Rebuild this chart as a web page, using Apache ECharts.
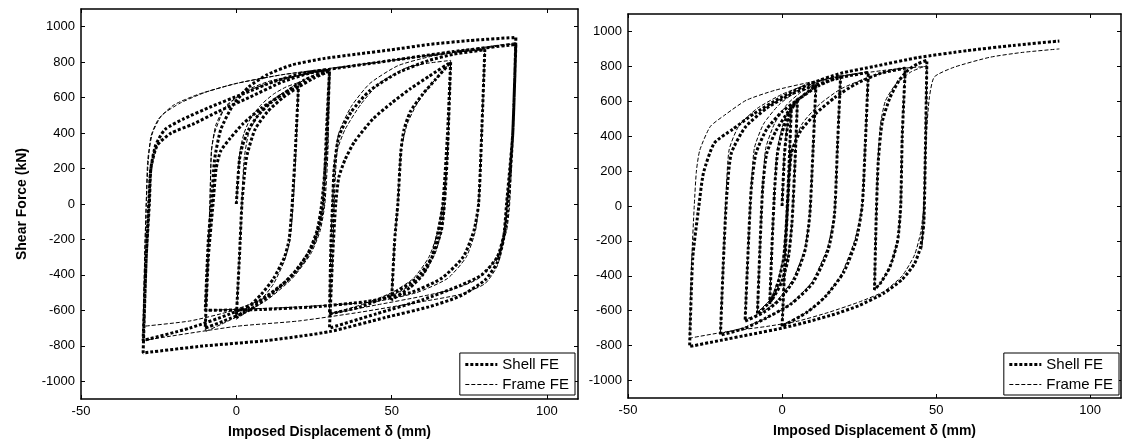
<!DOCTYPE html>
<html>
<head>
<meta charset="utf-8">
<title>Shear force vs imposed displacement</title>
<script src="https://cdn.jsdelivr.net/npm/echarts@6/dist/echarts.min.js"></script>
<style>
  html, body { margin: 0; padding: 0; background: #fff; }
  #chart { width: 1122px; height: 444px; }
</style>
</head>
<body>
<div id="chart"></div>
<script>
// tick labels
const xTicks = [-50, 0, 50, 100];
const yTicks = [-1000, -800, -600, -400, -200, 0, 200, 400, 600, 800, 1000];
const seriesNames = ['Shell FE', 'Frame FE'];

// left panel, Shell FE (displacement mm, force kN) in load order
const leftShell = [
  [0, 0], [1, 250], [2, 330], [4, 420], [7, 500], [11, 570], [15, 620], [20, 660],
  [19, 300], [18, 0], [17, -200], [15.5, -300], [12, -420], [8, -510], [4, -580], [0, -640],
  [1, -300], [1.8, 0], [2.8, 200], [3.5, 280], [6, 420], [10, 520], [15, 600], [20, 660], [25, 710], [30, 750],
  [29, 400], [28, 0], [27, -100], [25, -220], [20, -360], [12, -500], [4, -600], [-4, -660], [-10, -700],
  [-9, -300], [-7.5, 0], [-6.5, 200], [-5, 300], [-2, 370], [2, 450], [8, 540], [15, 620], [22, 700], [30, 752],
  [29, 300], [27.5, 0], [26, -150], [23, -280], [17, -420], [8, -540], [-2, -620], [-15, -700], [-30, -770],
  [-29, -300], [-28, 0], [-27.5, 200], [-26, 330], [-23, 420], [-17, 480], [-8, 550], [2, 620], [12, 690], [22, 740], [30, 760], [50, 810], [70, 860], [90, 900],
  [89, 400], [87.5, 0], [86.5, -150], [84, -300], [79, -400], [72, -460], [60, -540], [45, -620], [30, -700],
  [31, -300], [32, 0], [33, 150], [35, 250], [38, 350], [44, 480], [50, 570], [56, 650], [62, 720], [69, 800],
  [68, 400], [66.5, 0], [65, -150], [63, -300], [60, -400], [56, -470], [50, -540],
  [51, -200], [52, 0], [53, 300], [54, 420], [56, 520], [60, 620], [64, 700], [69, 800],
  [68, 300], [67, 0], [66, -150], [63, -300], [58, -420], [50, -510], [40, -580], [30, -620],
  [30.5, -200], [31, 0], [31.5, 200], [33, 380], [37, 520], [43, 640], [52, 740], [62, 810], [70, 845], [80, 870],
  [79, 400], [78, 0], [76.5, -150], [73, -300], [66, -420], [56, -500], [42, -550], [25, -580], [8, -595], [-10, -600],
  [-9, -200], [-8, 0], [-7, 250], [-5, 420], [-1, 560], [4, 660], [10, 730], [18, 785], [28, 820], [39, 846], [50, 870], [62, 900], [75, 922], [90, 940],
  [89, 400], [87, 0], [86, -200], [84, -330], [80, -430], [72, -520], [62, -580], [48, -640], [30, -720], [10, -770], [-10, -800], [-30, -840],
  [-29, -300], [-28.2, 0], [-27.5, 200], [-25.5, 330], [-21, 400], [-14, 450], [-6, 520], [4, 600], [15, 690], [24, 740], [30, 755]
];

// left panel, Frame FE
const leftFrame = [
  [0, 0], [1.2, 300], [2.5, 400], [4.5, 480], [8, 560], [12, 620], [16, 660], [20, 685],
  [19.2, 300], [18.3, 0], [17.3, -200], [15.5, -320], [12, -450], [8, -540], [4, -600], [0, -650],
  [1, -300], [1.8, 0], [2.5, 250], [4, 400], [7, 500], [12, 590], [18, 660], [24, 720], [30, 760],
  [29.5, 300], [28.5, 0], [27, -150], [24, -280], [18, -420], [10, -540], [2, -620], [-5, -680], [-10, -720],
  [-9, -300], [-8.5, 0], [-8, 300], [-7, 400], [-4, 530], [2, 630], [11, 695], [20, 725], [30, 760],
  [29, 300], [28, 0], [26.5, -150], [23, -300], [17, -430], [8, -540], [-3, -610], [-15, -660], [-30, -690],
  [-29.5, -300], [-29, 0], [-28.5, 200], [-27.5, 380], [-25, 480], [-20, 560], [-12, 620], [0, 680], [15, 730], [30, 765], [50, 810], [70, 855], [90, 905],
  [89, 400], [88, 0], [87, -150], [84, -300], [78, -420], [70, -480], [60, -520], [45, -570], [30, -620],
  [31, -300], [31.5, 0], [32.5, 300], [35, 420], [40, 560], [46, 680], [55, 770], [62, 795], [69, 810],
  [68, 300], [67, 0], [66, -150], [64, -280], [60, -400], [55, -470], [50, -520],
  [51, -200], [52, 0], [53, 300], [55, 450], [58, 560], [62, 660], [66, 740], [69, 800],
  [68, 300], [66.5, 0], [65, -150], [62, -300], [57, -420], [50, -500], [40, -570], [30, -620],
  [30.5, -200], [31, 0], [31.5, 200], [33, 400], [37, 550], [43, 680], [52, 780], [62, 830], [70, 855], [80, 870],
  [79, 400], [78, 0], [77, -150], [74, -300], [68, -420], [58, -500], [45, -550], [30, -570], [15, -585], [-10, -600],
  [-9, -200], [-8.5, 0], [-8, 300], [-6.5, 450], [-3, 560], [4, 640], [14, 700], [30, 760], [50, 810], [70, 860], [90, 910],
  [89, 400], [87, 0], [86, -200], [84, -350], [80, -450], [72, -510], [60, -550], [40, -610], [20, -660], [0, -690], [-30, -770],
  [-29.5, -300], [-29, 0], [-28.5, 250], [-27, 400], [-24, 500], [-18, 570], [-10, 630], [0, 680], [15, 730], [30, 760]
];

// right panel, Shell FE
const rightShell = [
  [0, 0], [0.8, 300], [1.5, 420], [2.2, 500], [3, 560],
  [2.2, 200], [1.4, -100], [0.5, -300], [-1, -420], [-2.5, -500], [-4, -560],
  [-3.2, -200], [-2.4, 100], [-1.5, 300], [0, 420], [2, 520], [5, 610],
  [4.2, 250], [3.2, -100], [2, -300], [0, -430], [-3, -530], [-8, -620],
  [-7.2, -250], [-6.3, 100], [-5, 300], [-2, 430], [2, 540], [6, 620], [11, 690],
  [10, 300], [9, -50], [7.5, -250], [4, -420], [-1, -540], [-6, -610], [-12, -660],
  [-11, -250], [-10, 100], [-8.5, 300], [-5, 440], [0, 540], [6, 620], [12, 690], [19, 745],
  [18, 350], [17, -50], [15, -250], [10, -440], [3, -560], [-5, -640], [-12, -700], [-20, -740],
  [-19, -300], [-18, 50], [-16.5, 300], [-12, 450], [-5, 560], [3, 640], [12, 700], [20, 740], [28, 765],
  [27, 350], [26, 0], [24, -200], [20, -380], [14, -520], [8, -610], [0, -690],
  [1, -300], [1.8, 0], [3, 300], [6, 430], [11, 530], [17, 620], [24, 700], [32, 760], [40, 790],
  [39, 400], [38.5, 0], [37.5, -200], [35, -350], [32, -440], [30, -480],
  [30.5, -100], [31.2, 250], [32.5, 480], [35, 620], [38, 720], [41, 780], [44, 815], [47, 835],
  [46.5, 300], [46, -100], [45, -230], [43, -330], [39, -420], [33, -500], [25, -570], [17, -620], [9, -660], [0, -700], [-10, -735], [-20, -770], [-30, -805],
  [-29, -300], [-27, 0], [-25.5, 190], [-22, 360], [-16, 440], [-9, 530], [0, 625], [9, 700], [19, 760], [30, 800], [44, 850], [60, 890], [75, 920], [90, 945]
];

// right panel, Frame FE
const rightFrame = [
  [0, 0], [0.8, 320], [1.6, 450], [2.3, 530], [3, 580],
  [2.2, 200], [1.4, -100], [0.3, -300], [-1.2, -420], [-2.6, -490], [-4, -540],
  [-3.2, -200], [-2.4, 100], [-1.6, 320], [0, 450], [2, 550], [5, 620],
  [4.2, 250], [3.2, -100], [1.8, -300], [-0.5, -440], [-3.5, -530], [-8, -610],
  [-7.2, -250], [-6.3, 100], [-5.3, 330], [-2.5, 470], [1.5, 580], [6, 650], [11, 700],
  [10, 300], [9, -50], [7.3, -250], [3.5, -420], [-1.5, -540], [-6.5, -610], [-12, -650],
  [-11, -250], [-10, 100], [-9, 330], [-6, 470], [-1, 580], [5, 660], [12, 715], [19, 750],
  [18, 350], [17, -50], [14.5, -250], [9.5, -440], [2, -570], [-6, -650], [-13, -700], [-20, -730],
  [-19, -300], [-18.2, 50], [-17.2, 320], [-14, 460], [-8, 560], [0, 640], [9, 700], [18, 740], [28, 770],
  [27, 350], [26, 0], [23.5, -200], [19, -400], [13, -540], [7, -620], [0, -680],
  [1, -300], [1.8, 0], [3.2, 320], [6.5, 470], [12, 580], [19, 670], [27, 730], [34, 770], [40, 790],
  [39, 400], [38.5, 0], [37.5, -200], [35, -350], [32, -440], [30, -480],
  [30.5, -100], [31, 200], [31.8, 450], [33.5, 600], [37, 700], [42, 770], [47, 805],
  [46.5, 300], [46, 0], [45, -150], [43, -280], [39, -400], [33, -490], [25, -550], [15, -610], [5, -660], [-5, -690], [-18, -720], [-30, -757],
  [-29.3, -300], [-28.5, 0], [-27.8, 200], [-26.7, 320], [-23.3, 455], [-18.6, 521], [-11.6, 606], [-2.3, 663], [9.3, 710], [20.9, 748], [32.6, 776], [40, 790], [47, 800],
  [46.5, 300], [46, -100], [45.3, -250],
  [46, 0], [46.8, 400], [47.8, 620], [49.4, 739], [55.8, 795], [67.4, 852], [78, 880], [90, 900]
];

const FONT = '"Liberation Sans", Arial, sans-serif';
const shellLine = { color: '#000', width: 3, type: [3, 2], cap: 'butt' };
const frameLine = { color: '#000', width: 1, type: [4, 2] };

function plainNumber(v) {
  return String(v);
}

function xAxes(gridIndex) {
  return [
    {
      gridIndex: gridIndex, type: 'value', position: 'bottom', min: -50, max: 110,
      name: 'Imposed Displacement \u03b4 (mm)', nameLocation: 'middle', nameGap: 26,
      nameTextStyle: { fontFamily: FONT, fontSize: 14, fontWeight: 'bold', color: '#000' },
      axisLine: { onZero: false, lineStyle: { color: '#000', width: 1.5 } },
      axisTick: { inside: true, length: 4, customValues: xTicks, lineStyle: { color: '#000' } },
      axisLabel: { customValues: xTicks, formatter: plainNumber, margin: 6, fontFamily: FONT, fontSize: 13, color: '#000' },
      splitLine: { show: false }
    },
    {
      gridIndex: gridIndex, type: 'value', position: 'top', min: -50, max: 110,
      axisLine: { onZero: false, lineStyle: { color: '#000', width: 1.5 } },
      axisTick: { inside: true, length: 4, customValues: xTicks, lineStyle: { color: '#000' } },
      axisLabel: { show: false },
      splitLine: { show: false }
    }
  ];
}

function yAxes(gridIndex, withName) {
  return [
    {
      gridIndex: gridIndex, type: 'value', position: 'left', min: -1100, max: 1100,
      name: withName ? 'Shear Force (kN)' : '', nameLocation: 'middle', nameGap: 52,
      nameTextStyle: { fontFamily: FONT, fontSize: 14, fontWeight: 'bold', color: '#000' },
      axisLine: { onZero: false, lineStyle: { color: '#000', width: 1.5 } },
      axisTick: { inside: true, length: 4, customValues: yTicks, lineStyle: { color: '#000' } },
      axisLabel: { customValues: yTicks, formatter: plainNumber, margin: 6, fontFamily: FONT, fontSize: 13, color: '#000' },
      splitLine: { show: false }
    },
    {
      gridIndex: gridIndex, type: 'value', position: 'right', min: -1100, max: 1100,
      axisLine: { onZero: false, lineStyle: { color: '#000', width: 1.5 } },
      axisTick: { inside: true, length: 4, customValues: yTicks, lineStyle: { color: '#000' } },
      axisLabel: { show: false },
      splitLine: { show: false }
    }
  ];
}

function curve(name, data, axisIndex) {
  return {
    name: name, type: 'line', data: data,
    xAxisIndex: axisIndex, yAxisIndex: axisIndex,
    symbol: 'none', smooth: 0.2, animation: false,
    color: '#000',
    itemStyle: { color: '#000' },
    lineStyle: name === 'Shell FE' ? shellLine : frameLine
  };
}

function legendAt(right) {
  return {
    data: [
      { name: seriesNames[0], lineStyle: shellLine },
      { name: seriesNames[1], lineStyle: frameLine }
    ],
    orient: 'vertical', right: right, top: 353,
    selectedMode: false, itemWidth: 32, itemHeight: 10, itemGap: 5,
    padding: [4, 6, 3, 4], borderColor: '#000', borderWidth: 1, borderRadius: 0,
    backgroundColor: '#fff',
    itemStyle: { opacity: 0 },
    textStyle: { fontFamily: FONT, fontSize: 15, color: '#000' }
  };
}

const chart = echarts.init(document.getElementById('chart'), null, { renderer: 'canvas' });

chart.setOption({
  backgroundColor: '#fff',
  animation: false,
  grid: [
    { left: 81, top: 9, width: 497, height: 390 },
    { left: 628, top: 14, width: 493, height: 384 }
  ],
  xAxis: xAxes(0).concat(xAxes(1)),
  yAxis: yAxes(0, true).concat(yAxes(1, false)),
  legend: [legendAt(547), legendAt(3)],
  series: [
    curve('Shell FE', leftShell, 0),
    curve('Frame FE', leftFrame, 0),
    curve('Shell FE', rightShell, 2),
    curve('Frame FE', rightFrame, 2)
  ]
});

window.onresize = function () {
  chart.resize();
};
</script>
</body>
</html>
